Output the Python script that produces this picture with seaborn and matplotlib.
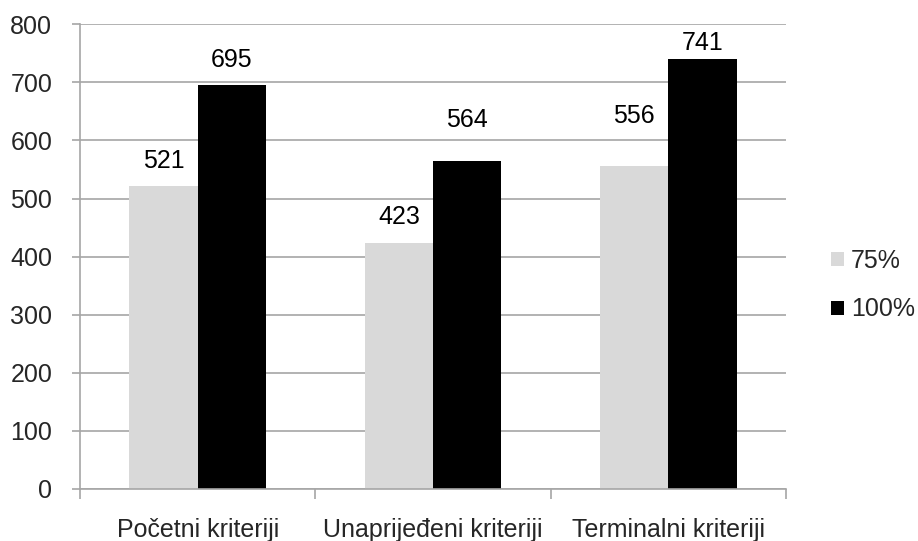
import matplotlib
matplotlib.use("Agg")
import matplotlib.pyplot as plt
import seaborn as sns
import pandas as pd
from matplotlib.patches import Patch
from matplotlib.ticker import FixedLocator

categories = ["Početni kriteriji", "Unaprijeđeni kriteriji", "Terminalni kriteriji"]
series_names = ["75%", "100%"]
values_75 = [521, 423, 556]
values_100 = [695, 564, 741]
y_ticks = [0, 100, 200, 300, 400, 500, 600, 700, 800]

# label offsets above bar tops (in pixels), per series
label_offsets = {"75%": [25, 26, 50], "100%": [25, 41, 16]}
colors = {"75%": "#D9D9D9", "100%": "#000000"}

df = pd.DataFrame({
    "cat": categories * 2,
    "series": [series_names[0]] * 3 + [series_names[1]] * 3,
    "value": values_75 + values_100,
})

sns.set_style("white")
plt.rcParams["font.family"] = ["Liberation Sans", "DejaVu Sans"]
FS = 18

fig = plt.figure(figsize=(9.18, 5.41), dpi=100)
ax = fig.add_axes([80 / 918, 1 - 489 / 541, (786 - 80) / 918, (489 - 24.3) / 541])

sns.barplot(data=df, x="cat", y="value", hue="series", order=categories,
            hue_order=series_names, palette=colors, width=0.58,
            saturation=1, linewidth=0, ax=ax, legend=False)

ax.set_ylim(0, 800)
ax.set_xlim(-0.5, 2.5)
ax.set_yticks(y_ticks)
ax.set_xlabel("")
ax.set_ylabel("")
gc = "#A6A6A6"
ax.yaxis.grid(True, color=gc, linewidth=1.2)
ax.set_axisbelow(True)
for s in ["top", "right"]:
    ax.spines[s].set_visible(False)
for s in ["left", "bottom"]:
    ax.spines[s].set_color(gc)
    ax.spines[s].set_linewidth(1.2)

ax.tick_params(axis="y", length=6, width=1.2, color=gc, pad=14, labelsize=FS, direction="out", left=True)
ax.tick_params(axis="x", which="major", length=0, pad=21, labelsize=FS)
ax.xaxis.set_minor_locator(FixedLocator([-0.5, 0.5, 1.5, 2.5]))
ax.tick_params(axis="x", which="minor", length=7, width=1.2, color=gc, direction="out", bottom=True)

# data labels
for container, name in zip(ax.containers, series_names):
    for bar, off in zip(container, label_offsets[name]):
        h = bar.get_height()
        ax.annotate(f"{int(round(h))}", (bar.get_x() + bar.get_width() / 2, h),
                    xytext=(0, off * 0.72), textcoords="offset points",
                    ha="center", va="center", fontsize=FS, color="black")

handles = [Patch(facecolor=colors[n], edgecolor="none", label=n) for n in series_names]
fig.legend(handles=handles, loc="center left", bbox_to_anchor=(831 / 918, 1 - 285 / 541),
           frameon=False, fontsize=FS, handlelength=0.5, handleheight=0.5,
           handletextpad=0.3, labelspacing=1.0, borderpad=0, borderaxespad=0)

fig.savefig("out.png", dpi=100)
